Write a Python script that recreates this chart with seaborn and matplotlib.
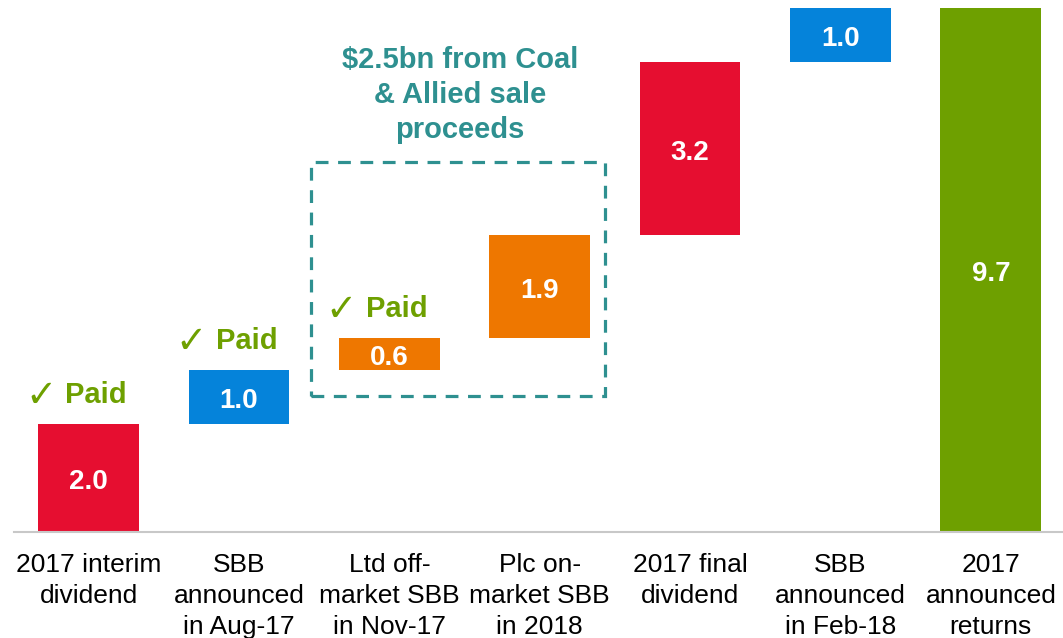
import matplotlib
matplotlib.use("Agg")
import matplotlib.pyplot as plt
import seaborn as sns
import numpy as np
import pandas as pd
from matplotlib.patches import Rectangle

categories = ["2017 interim\ndividend", "SBB\nannounced\nin Aug-17", "Ltd off-\nmarket SBB\nin Nov-17",
              "Plc on-\nmarket SBB\nin 2018", "2017 final\ndividend", "SBB\nannounced\nin Feb-18",
              "2017\nannounced\nreturns"]
values = [2.0, 1.0, 0.6, 1.9, 3.2, 1.0, 9.7]
is_total = [False, False, False, False, False, False, True]
colors = ["#E60E30", "#0583DA", "#EE7700", "#EE7700", "#E60E30", "#0583DA", "#6EA000"]
paid = [True, True, True, False, False, False, False]
note_text = "\\$2.5bn from Coal\n& Allied sale\nproceeds"

GREEN = "#6EA000"
TEAL = "#2E9090"

# waterfall bases from the running total
bases = []
running = 0.0
for v, tot in zip(values, is_total):
    if tot:
        bases.append(0.0)
    else:
        bases.append(running)
        running += v

df = pd.DataFrame({"cat": categories, "value": values, "base": bases})

sns.set_theme(style="white")
plt.rcParams["font.family"] = ["Liberation Sans", "DejaVu Sans"]

fig = plt.figure(figsize=(10.63, 6.38), dpi=100)
ax = fig.add_axes([0.0127, 0.166, 0.9873, 0.834])

sns.barplot(data=df, x="cat", y="value", hue="cat", palette=colors, width=0.67,
            legend=False, saturation=1, ax=ax, linewidth=0)

for patch, b in zip(ax.patches, bases):
    patch.set_y(b)

for i, (v, b) in enumerate(zip(values, bases)):
    ax.text(i, b + v / 2 - 0.08, f"{v:.1f}", ha="center", va="center", color="white",
            fontsize=20, fontweight="bold")
    if paid[i]:
        ax.text(i + 0.05, b + v + 0.53, "Paid", ha="center", va="center", color=GREEN,
                fontsize=21, fontweight="bold")
        ax.text(i - 0.32, b + v + 0.50, "✓", ha="center", va="center", color=GREEN,
                fontsize=27, family="DejaVu Sans")

# dashed box for the Coal & Allied proceeds
ax.add_patch(Rectangle((1.48, 2.52), 1.955, 4.33, fill=False, edgecolor=TEAL,
                       linewidth=2.3, linestyle=(0, (4, 3)), zorder=3))
ax.text(2.47, 8.09, note_text, ha="center", va="center", color=TEAL, fontsize=21,
        fontweight="bold", linespacing=1.32)

ax.set_xlim(-0.5, 6.48)
ax.set_ylim(0, 9.85)
ax.set_xlabel("")
ax.set_ylabel("")
ax.set_yticks([])
for s in ["top", "right", "left"]:
    ax.spines[s].set_visible(False)
ax.spines["bottom"].set_color("#C8C8C8")
ax.spines["bottom"].set_linewidth(1.5)
ax.tick_params(axis="x", length=0, pad=15, labelsize=19)
for lbl in ax.get_xticklabels():
    lbl.set_linespacing(1.38)
    lbl.set_color("black")

fig.savefig("out.png", dpi=100)
